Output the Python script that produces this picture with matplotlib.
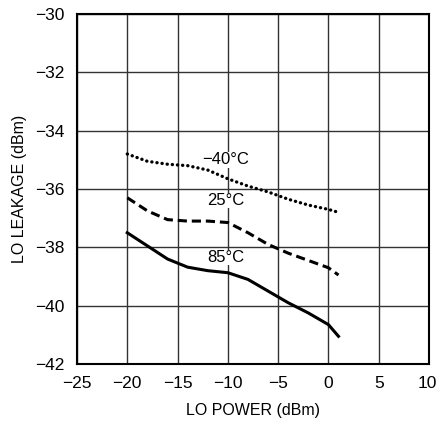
import matplotlib.pyplot as plt
from matplotlib import font_manager
from matplotlib.transforms import ScaledTranslation

# LO leakage vs LO power at three temperatures
lo_power = [-20, -18, -16, -14, -12, -10, -8, -6, -4, -2, 0, 1]
leak_m40 = [-34.8, -35.05, -35.15, -35.2, -35.35, -35.65, -35.9, -36.1, -36.35, -36.55, -36.7, -36.8]
leak_25 = [-36.3, -36.75, -37.05, -37.1, -37.1, -37.15, -37.5, -37.9, -38.2, -38.45, -38.7, -38.95]
leak_85 = [-37.5, -37.95, -38.4, -38.68, -38.8, -38.87, -39.1, -39.5, -39.9, -40.25, -40.65, -41.05]
labels = ['\u221240\u00b0C', '25\u00b0C', '85\u00b0C']
label_pos = [(-10.2, -35.0), (-10.2, -36.4), (-10.2, -38.35)]
xticks = [-25, -20, -15, -10, -5, 0, 5, 10]
yticks = [-42, -40, -38, -36, -34, -32, -30]

names = {f.name for f in font_manager.fontManager.ttflist}
fam = 'Liberation Sans Narrow' if 'Liberation Sans Narrow' in names else 'Liberation Sans'
plt.rcParams['font.family'] = [fam, 'DejaVu Sans']

fig = plt.figure(figsize=(4.37, 4.21), dpi=100)
ax = fig.add_axes([77 / 437, 57 / 421, 352 / 437, 350 / 421])

ax.plot(lo_power, leak_m40, color='black', lw=2.4, linestyle=(0, (0.05, 1.5)),
        dash_capstyle='round', zorder=3)
ax.plot(lo_power, leak_25, color='black', lw=2.2, linestyle=(0, (3.0, 1.6)), zorder=3)
ax.plot(lo_power, leak_85, color='black', lw=2.2, zorder=3)

for txt, (x, y) in zip(labels, label_pos):
    ax.text(x, y, txt, ha='center', va='center', fontsize=12, zorder=2,
            bbox=dict(facecolor='white', edgecolor='none', pad=0.3))

ax.set_xlim(-25, 10)
ax.set_ylim(-42, -30)
ax.set_xticks(xticks)
ax.set_yticks(yticks)
ax.set_xticklabels([str(v).replace('-', '\u2212') for v in xticks])
ax.set_yticklabels([str(v).replace('-', '\u2212') for v in yticks])
ax.tick_params(axis='x', length=0, labelsize=12.5, pad=9)
ax.tick_params(axis='y', length=0, labelsize=12.5, pad=9)
last = ax.get_xticklabels()[-1]
last.set_transform(last.get_transform() + ScaledTranslation(-2 / 100, 0, fig.dpi_scale_trans))
ax.grid(True, color='0.2', lw=1.0, zorder=1)
ax.set_axisbelow(True)
for s in ax.spines.values():
    s.set_linewidth(1.5)
    s.set_zorder(4)

ax.set_xlabel('LO POWER (dBm)', fontsize=11.5, labelpad=8)
ax.set_ylabel('LO LEAKAGE (dBm)', fontsize=11.5, labelpad=6)

fig.savefig('out.png', dpi=100)
